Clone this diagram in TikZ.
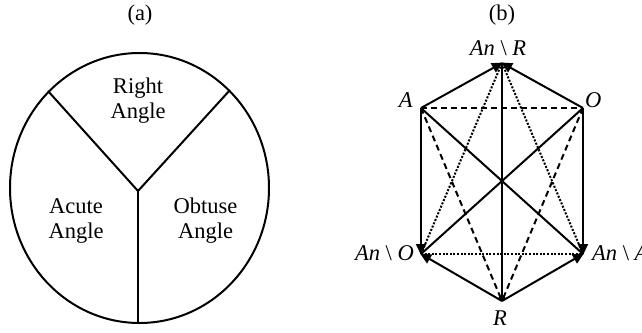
\documentclass[tikz,border=0pt]{standalone}
\usepackage{fontspec}
\setmainfont{Liberation Serif}
\usetikzlibrary{arrows.meta}
\tikzset{
  lbl/.style={font=\fontsize{22.5}{25}\selectfont, inner sep=0pt},
  sec/.style={font=\fontsize{22.5}{25}\selectfont, align=center, inner sep=0pt},
  edge/.style={line width=2pt},
  solidarrow/.style={edge, -{Triangle[length=11pt,width=10pt]}, shorten >=-1pt},
  thinarrow/.style={line width=1.6pt, -{To[length=4pt,width=7pt]}},
  dashedge/.style={edge, dash pattern=on 6pt off 4pt},
  dotedge/.style={edge, dash pattern=on 2pt off 1.6pt},
}
\begin{document}
\begin{tikzpicture}[x=1pt,y=-1pt]
\useasboundingbox (0,0) rectangle (642,332);
% ---------- (a) ----------
\node[lbl] (ta) at (140,15) {(a)};
\draw[line width=2pt] (139.5,188) ellipse [x radius=129.5, y radius=135];
\coordinate (J) at (138,191);
\coordinate (P1) at (48,91);
\coordinate (P2) at (230,90);
\coordinate (P3) at (138,323);
\draw[line width=2pt] (P1) -- (J) -- (P2);
\draw[line width=2pt] (J) -- (P3);
\node[sec] (right) at (138,101) {Right\\Angle};
\node[sec] (acute) at (76,221) {Acute\\Angle};
\node[sec] (obtuse) at (205.5,221) {Obtuse\\Angle};
% ---------- (b) ----------
\node[lbl] (tb) at (502,15) {(b)};
\coordinate (T) at (502,63);
\coordinate (A) at (421,108);
\coordinate (O) at (583,108);
\coordinate (L) at (421,254);
\coordinate (Q) at (583,254);
\coordinate (B) at (502,301);
% labels
\node[lbl, anchor=base] (lT) at (498,55) {\textit{An} \textbackslash{} \textit{R}};
\node[lbl, anchor=base east] (lA) at (413,107) {\textit{A}};
\node[lbl, anchor=base west] (lO) at (585,107) {\textit{O}};
\node[lbl, anchor=base east] (lL) at (414,260) {\textit{An} \textbackslash{} \textit{O}};
\node[lbl, anchor=base west] (lQ) at (592,260) {\textit{An} \textbackslash{} \textit{A}};
\node[lbl, anchor=base] (lB) at (500,325) {\textit{R}};
% dashed
\draw[dashedge] (A) -- (O);
\draw[dashedge] (A) -- (B);
\draw[dashedge] (O) -- (B);
% dotted
\draw[dotedge] (L) -- (Q);
\draw[dotedge] (L) -- (T);
\draw[dotedge] (Q) -- (T);
% solid diagonals
\draw[edge] (A) -- (Q);
\draw[edge] (O) -- (L);
% vertical center
\draw[thinarrow] (T) -- (B);
% solid arrows
\draw[solidarrow] (A) -- (T);
\draw[solidarrow] (O) -- (T);
\draw[solidarrow] (A) -- (L);
\draw[solidarrow] (O) -- (Q);
\draw[solidarrow] (B) -- (L);
\draw[solidarrow] (B) -- (Q);
\end{tikzpicture}
\end{document}
